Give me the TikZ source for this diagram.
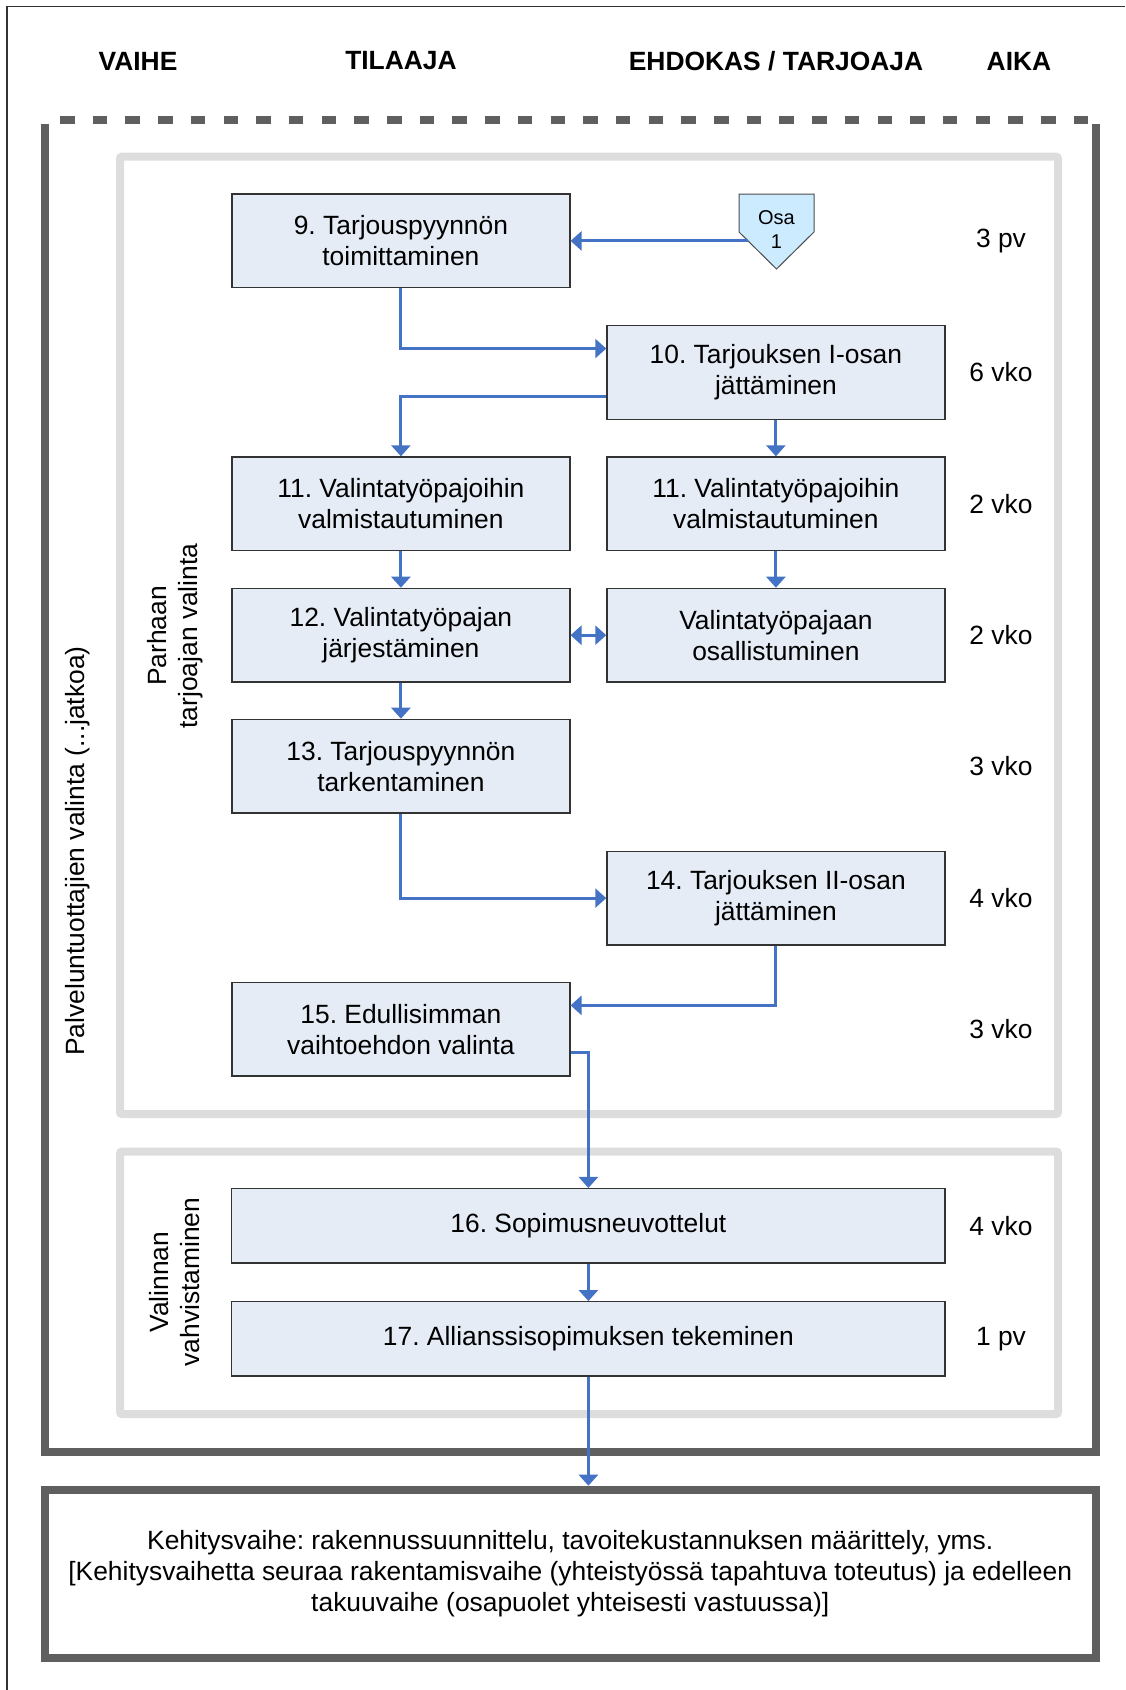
\documentclass[tikz,border=0pt]{standalone}
\usepackage{fontspec}
\setmainfont{Liberation Sans}
\usetikzlibrary{arrows.meta,calc}
\definecolor{boxfill}{HTML}{E6ECF6}
\definecolor{flow}{HTML}{4472C4}
\definecolor{framegray}{HTML}{5F5F5F}
\definecolor{groupgray}{HTML}{DDDDDD}
\definecolor{osafill}{HTML}{CCEBFF}
\frenchspacing
\begin{document}
\begin{tikzpicture}[x=1pt,y=-1pt,
  every node/.style={font=\fontsize{26.4}{31}\selectfont, inner sep=0pt},
  hdr/.style={font=\fontsize{26.4}{31}\selectfont\bfseries},
  stepbox/.style={draw=black!80, line width=1.3pt, fill=boxfill,
    minimum width=338pt, minimum height=93.7pt, align=center},
  widebox/.style={stepbox, minimum width=713.3pt, minimum height=74.4pt},
  timelbl/.style={anchor=center},
  flowline/.style={draw=flow, line width=3pt, -{Triangle[length=11pt,width=19pt]}},
  twoway/.style={draw=flow, line width=3pt,
    {Triangle[length=11pt,width=19pt]}-{Triangle[length=11pt,width=19pt]}},
  grouprect/.style={draw=groupgray, line width=8pt, rounded corners=2pt},
  thickframe/.style={draw=framegray, line width=8pt}]

\useasboundingbox (0,0) rectangle (1125,1690);

% page edge
\draw[line width=1.5pt, black!80] (7,1690) -- (7,6.5) -- (1125,6.5);

% column headings
\node[hdr] (hVaihe) at (138,61) {VAIHE};
\node[hdr] (hTilaaja) at (401,61) {TILAAJA};
\node[hdr] (hEhdokas) at (776,61) {EHDOKAS / TARJOAJA};
\node[hdr] (hAika) at (1019,61) {AIKA};

% phase frame
\draw[framegray, line width=8pt, dash pattern=on 14.5pt off 18.2pt] (60,120) -- (1095,120);
\draw[thickframe] (45,124) -- (45,1451.7) -- (1095.5,1451.7) -- (1095.5,124);

% sub-phase groups
\draw[grouprect] (120,156.7) rectangle (1058,1114);
\draw[grouprect] (120,1151.5) rectangle (1058,1414);

% vertical labels
\node[rotate=90] (lPhase) at (77.6,851) {Palveluntuottajien valinta (...jatkoa)};
\node[rotate=90, align=center] (lBest) at (175,636) {Parhaan\\tarjoajan valinta};
\node[rotate=90, align=center] (lConfirm) at (175,1282) {Valinnan\\vahvistaminen};

% steps
\node[stepbox] (b9)  at (400.9,240.9) {9. Tarjouspyynnön\\toimittaminen};
\node[stepbox] (b10) at (775.9,372.3) {10. Tarjouksen I-osan\\jättäminen};
\node[stepbox] (b11L) at (400.9,503.8) {11. Valintatyöpajoihin\\valmistautuminen};
\node[stepbox] (b11R) at (775.9,503.8) {11. Valintatyöpajoihin\\valmistautuminen};
\node[stepbox] (b12L) at (400.9,635.2) {12. Valintatyöpajan\\järjestäminen};
\node[stepbox] (b12R) at (775.9,635.2) {Valintatyöpajaan\\osallistuminen};
\node[stepbox] (b13) at (400.9,766.2) {13. Tarjouspyynnön\\tarkentaminen};
\node[stepbox] (b14) at (775.9,898.1) {14. Tarjouksen II-osan\\jättäminen};
\node[stepbox] (b15) at (400.9,1029.1) {15. Edullisimman\\vaihtoehdon valinta};
\node[widebox] (b16) at (588.4,1225.8) {16. Sopimusneuvottelut};
\node[widebox] (b17) at (588.4,1338.9) {17. Allianssisopimuksen tekeminen};

% part marker
\draw[draw=black!70, line width=1pt, fill=osafill]
  (739,194) -- (814,194) -- (814,232) -- (776.5,269) -- (739,232) -- cycle;
\node[font=\fontsize{20}{24}\selectfont, align=center] (osa) at (776.5,230) {Osa\\1};
\coordinate (osaL) at (748,240.9);

% durations
\node[timelbl] (t1) at (1001,240.9) {3 pv};
\node[timelbl] (t2) at (1001,372.3) {6 vko};
\node[timelbl] (t3) at (1001,503.8) {2 vko};
\node[timelbl] (t4) at (1001,635.2) {2 vko};
\node[timelbl] (t5) at (1001,766.2) {3 vko};
\node[timelbl] (t6) at (1001,898.1) {4 vko};
\node[timelbl] (t7) at (1001,1029.1) {3 vko};
\node[timelbl] (t8) at (1001,1225.8) {4 vko};
\node[timelbl] (t9) at (1001,1338.9) {1 pv};

% development phase box
\node[draw=framegray, line width=8pt, minimum width=1050.5pt, minimum height=168.3pt,
      align=center] (kbox) at (570.25,1573.85)
  {Kehitysvaihe: rakennussuunnittelu, tavoitekustannuksen määrittely, yms.\\
   {[}Kehitysvaihetta seuraa rakentamisvaihe (yhteistyössä tapahtuva toteutus) ja edelleen\\
   takuuvaihe (osapuolet yhteisesti vastuussa){]}};

% connectors
\coordinate (b10in)  at ($(b10.north west)!0.25!(b10.south west)$);
\coordinate (b10out) at ($(b10.north west)!0.75!(b10.south west)$);
\coordinate (b15in)  at ($(b15.north east)!0.25!(b15.south east)$);
\coordinate (b15out) at ($(b15.north east)!0.75!(b15.south east)$);

\draw[flowline] (osaL) -- (osaL -| b9.east);
\draw[flowline] (b9.south) |- (b10in);
\draw[flowline] (b10out) -| (b11L.north);
\draw[flowline] (b10.south) -- (b11R.north);
\draw[flowline] (b11L.south) -- (b12L.north);
\draw[flowline] (b11R.south) -- (b12R.north);
\draw[twoway] (b12L.east) -- (b12R.west);
\draw[flowline] (b12L.south) -- (b13.north);
\draw[flowline] (b13.south) |- (b14.west);
\draw[flowline] (b14.south) |- (b15in);
\draw[flowline] (b15out) -| (b16.north);
\draw[flowline] (b16.south) -- (b17.north);
\draw[flowline] (b17.south) -- (b17.south |- kbox.north);

\end{tikzpicture}
\end{document}
